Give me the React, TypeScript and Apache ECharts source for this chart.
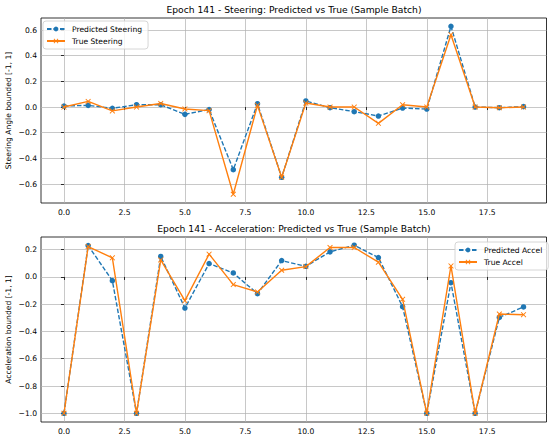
import React, { useEffect, useRef } from "react";
import * as echarts from "echarts";

const indices = Array.from({ length: 20 }, (_, i) => i);
const predSteering = [0.008, 0.013, -0.01, 0.018, 0.018, -0.057, -0.02, -0.488, 0.026, -0.548, 0.047, -0.005, -0.036, -0.07, -0.008, -0.016, 0.629, 0.0, -0.005, 0.003];
const trueSteering = [0.0, 0.044, -0.03, 0.0, 0.028, -0.015, -0.028, -0.68, 0.013, -0.548, 0.031, 0.0, 0.0, -0.127, 0.018, 0.0, 0.564, 0.0, -0.005, 0.0];
const predAccel = [-1.0, 0.23, -0.027, -1.0, 0.15, -0.228, 0.098, 0.029, -0.123, 0.12, 0.078, 0.184, 0.233, 0.142, -0.218, -1.0, -0.042, -1.0, -0.297, -0.22];
const trueAccel = [-1.0, 0.223, 0.14, -1.0, 0.125, -0.174, 0.167, -0.056, -0.11, 0.049, 0.076, 0.216, 0.216, 0.108, -0.164, -1.0, 0.081, -1.0, -0.272, -0.277];
const xTicks = [0, 2.5, 5, 7.5, 10, 12.5, 15, 17.5];
const ySteerTicks = [-0.6, -0.4, -0.2, 0, 0.2, 0.4, 0.6];
const yAccelTicks = [-1.0, -0.8, -0.6, -0.4, -0.2, 0, 0.2];

const BLUE = "#1f77b4";
const ORANGE = "#ff7f0e";
const FONT = "DejaVu Sans";
const X_SYMBOL = "path://M0,1.2L1.2,0L5,3.8L8.8,0L10,1.2L6.2,5L10,8.8L8.8,10L5,6.2L1.2,10L0,8.8L3.8,5Z";

const fmt = (v: number) => {
  const s = Math.abs(v) < 1e-9 ? "0.0" : v.toFixed(1);
  return s.replace("-", "\u2212");
};

const pairs = (ys: number[]) => indices.map((x, i) => [x, ys[i]]);

export default function App() {
  const ref = useRef<HTMLDivElement>(null);
  useEffect(() => {
    if (!ref.current) return;
    const chart = echarts.init(ref.current, undefined, { renderer: "svg" });
    const xAxisBase = (gridIndex: number) => ({
      type: "value",
      gridIndex,
      min: -0.95,
      max: 19.95,
      axisLine: { show: false },
      axisTick: { show: true, length: 3, lineStyle: { color: "#000", width: 0.8 }, customValues: xTicks },
      axisLabel: { color: "#000", fontSize: 7.6, fontFamily: FONT, margin: 5, customValues: xTicks, formatter: (v: number) => fmt(v) },
      splitLine: { show: true, lineStyle: { color: "#b0b0b0", width: 0.7 } },
    });
    const yAxisBase = (gridIndex: number, min: number, max: number, ticks: number[], name: string) => ({
      type: "value",
      gridIndex,
      min,
      max,
      name,
      nameLocation: "middle",
      nameGap: 29,
      nameMoveOverlap: false,
      nameTextStyle: { color: "#000", fontSize: 7.6, fontFamily: FONT },
      axisLine: { show: false },
      axisTick: { show: true, length: 3, lineStyle: { color: "#000", width: 0.8 }, customValues: ticks },
      axisLabel: { color: "#000", fontSize: 7.6, fontFamily: FONT, margin: 4, customValues: ticks, formatter: (v: number) => fmt(v) },
      splitLine: { show: true, lineStyle: { color: "#b0b0b0", width: 0.7 } },
    });
    const predSeries = (name: string, data: number[], idx: number) => ({
      name,
      type: "line",
      xAxisIndex: idx,
      yAxisIndex: idx,
      data: pairs(data),
      symbol: "circle",
      symbolSize: 5.5,
      showAllSymbol: true,
      itemStyle: { color: BLUE },
      lineStyle: { color: BLUE, width: 1.4, type: [4.5, 2] },
      z: 3,
    });
    const trueSeries = (name: string, data: number[], idx: number) => ({
      name,
      type: "line",
      xAxisIndex: idx,
      yAxisIndex: idx,
      data: pairs(data),
      symbol: X_SYMBOL,
      symbolSize: 5.5,
      showAllSymbol: true,
      itemStyle: { color: ORANGE },
      lineStyle: { color: ORANGE, width: 1.4 },
      z: 4,
    });
    const legendBase = {
      orient: "vertical",
      itemWidth: 18,
      itemHeight: 6,
      itemGap: 4,
      padding: [4, 6, 4, 3],
      backgroundColor: "rgba(255,255,255,0.8)",
      borderColor: "#cccccc",
      borderWidth: 0.8,
      borderRadius: 3,
      textStyle: { color: "#000", fontSize: 7.6, fontFamily: FONT, padding: [0, 0, 0, 2] },
    };
    const titleStyle = { fontSize: 9.2, fontWeight: "normal", color: "#000", fontFamily: FONT };
    chart.setOption({
      animation: false,
      backgroundColor: "#fff",
      title: [
        { text: "Epoch 141 - Steering: Predicted vs True (Sample Batch)", left: 294, top: 5, padding: 0, textAlign: "center", textStyle: titleStyle },
        { text: "Epoch 141 - Acceleration: Predicted vs True (Sample Batch)", left: 294, top: 223.5, padding: 0, textAlign: "center", textStyle: titleStyle },
      ],
      grid: [
        { left: 41, right: 3.5, top: 18, height: 185, show: true, borderColor: "#000", borderWidth: 0.8, backgroundColor: "transparent", outerBoundsMode: "none", containLabel: false },
        { left: 41, right: 3.5, top: 237, height: 185, show: true, borderColor: "#000", borderWidth: 0.8, backgroundColor: "transparent", outerBoundsMode: "none", containLabel: false },
      ],
      xAxis: [xAxisBase(0), xAxisBase(1)],
      yAxis: [
        yAxisBase(0, -0.748, 0.694, ySteerTicks, "Steering Angle bounded [-1, 1]"),
        yAxisBase(1, -1.064, 0.293, yAccelTicks, "Acceleration bounded [-1, 1]"),
      ],
      legend: [
        { ...legendBase, left: 43, top: 21, data: ["Predicted Steering", "True Steering"] },
        { ...legendBase, left: 455, top: 242, data: ["Predicted Accel", "True Accel"] },
      ],
      series: [
        predSeries("Predicted Steering", predSteering, 0),
        trueSeries("True Steering", trueSteering, 0),
        predSeries("Predicted Accel", predAccel, 1),
        trueSeries("True Accel", trueAccel, 1),
      ],
    });
    return () => chart.dispose();
  }, []);
  return <div ref={ref} style={{ width: 550, height: 438, position: "absolute", left: 0, top: 0 }} />;
}
